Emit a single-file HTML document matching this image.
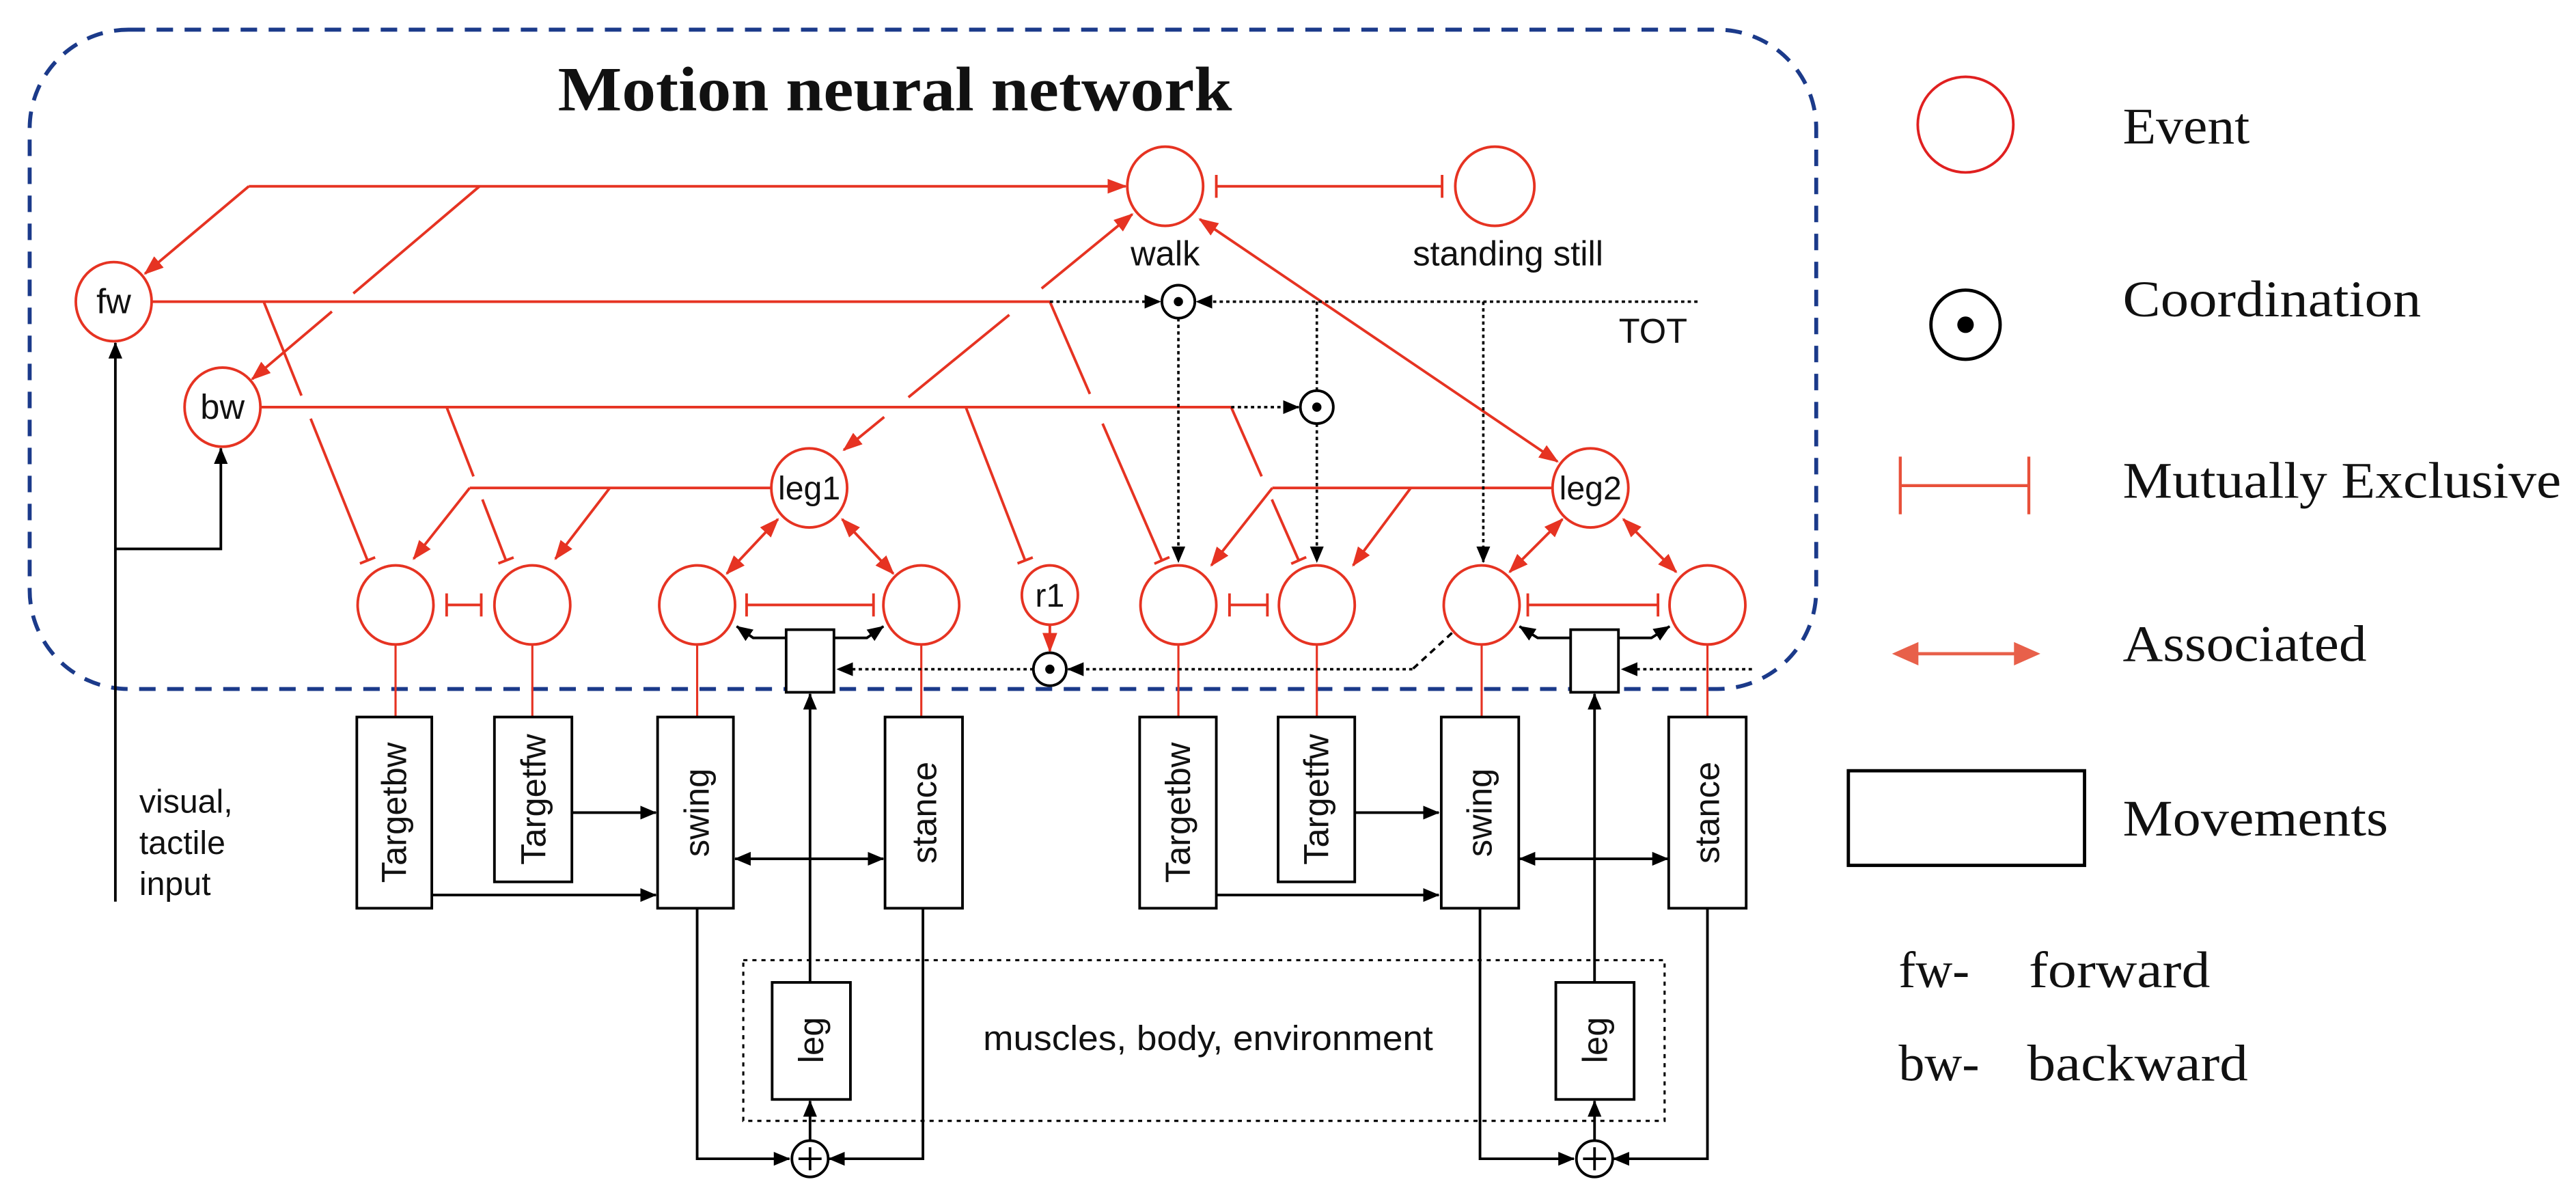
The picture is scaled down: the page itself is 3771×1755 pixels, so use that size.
<!DOCTYPE html>
<html><head><meta charset="utf-8"><style>
html,body{margin:0;padding:0;background:#fff}
svg{display:block}
.s{font-family:"Liberation Sans",Arial,sans-serif;fill:#111}
.f{font-family:"Liberation Serif","Times New Roman",serif;fill:#111}
</style></head><body>
<svg width="3771" height="1755" viewBox="0 0 1563 727.4" xmlns="http://www.w3.org/2000/svg">
<defs>
<marker id="ra" markerUnits="userSpaceOnUse" markerWidth="12" markerHeight="12" viewBox="0 0 12 12" refX="11" refY="6" orient="auto-start-reverse"><path d="M0,1.5 L12,6 L0,10.5 Z" fill="#e63322"/></marker>
<marker id="ba" markerUnits="userSpaceOnUse" markerWidth="10" markerHeight="10" viewBox="0 0 10 10" refX="9.5" refY="5" orient="auto-start-reverse"><path d="M0,0.8 L10,5 L0,9.2 Z" fill="#000"/></marker>
<marker id="ib" markerUnits="userSpaceOnUse" markerWidth="4" markerHeight="14" viewBox="0 0 4 14" refX="2" refY="7" orient="auto"><path d="M2,0 V14" stroke="#e63322" stroke-width="1.6"/></marker>
<marker id="ibs" markerUnits="userSpaceOnUse" markerWidth="4" markerHeight="10" viewBox="0 0 4 10" refX="2" refY="5" orient="auto"><path d="M2,0 V10" stroke="#e63322" stroke-width="1.6"/></marker>
</defs>

<!-- dashed container -->
<rect x="18" y="18" width="1084" height="400" rx="60" ry="60" fill="none" stroke="#1b3a8a" stroke-width="2.4" stroke-dasharray="10 7"/>

<text x="543" y="67" class="f" font-size="38" font-weight="bold" text-anchor="middle" textLength="409" lengthAdjust="spacingAndGlyphs">Motion neural network</text>

<g fill="none" stroke="#e63322" stroke-width="1.6">
<!-- event circles -->
<ellipse cx="707" cy="113" rx="23" ry="24"/>
<ellipse cx="907" cy="113" rx="24" ry="24"/>
<ellipse cx="69" cy="183" rx="23" ry="24"/>
<ellipse cx="135" cy="247" rx="23" ry="24"/>
<ellipse cx="491" cy="296" rx="23" ry="24"/>
<ellipse cx="965" cy="296" rx="23" ry="24"/>
<ellipse cx="637" cy="361" rx="17" ry="18"/>
<ellipse cx="240" cy="367" rx="23" ry="24"/>
<ellipse cx="323" cy="367" rx="23" ry="24"/>
<ellipse cx="423" cy="367" rx="23" ry="24"/>
<ellipse cx="559" cy="367" rx="23" ry="24"/>
<ellipse cx="715" cy="367" rx="23" ry="24"/>
<ellipse cx="799" cy="367" rx="23" ry="24"/>
<ellipse cx="899" cy="367" rx="23" ry="24"/>
<ellipse cx="1036" cy="367" rx="23" ry="24"/>

<!-- top line to walk -->
<path d="M151,113 H683" marker-end="url(#ra)"/>
<path d="M151,113 L88,166" marker-end="url(#ra)"/>
<path d="M291,113 L214.4,178"/>
<path d="M201.4,189 L153,230" marker-end="url(#ra)"/>
<!-- walk / standing still -->
<path d="M738,113 H875" marker-start="url(#ib)" marker-end="url(#ib)"/>
<!-- fw line -->
<path d="M92,183 H637"/>
<path d="M160,183 L182.9,240"/>
<path d="M188.5,254 L223,340" marker-end="url(#ibs)"/>
<path d="M637,183 L661.3,239"/>
<path d="M669,257 L705,340" marker-end="url(#ibs)"/>
<!-- bw line -->
<path d="M158,247 H747"/>
<path d="M271,247 L287.3,289"/>
<path d="M292.7,303 L307,340" marker-end="url(#ibs)"/>
<path d="M586,247 L622,340" marker-end="url(#ibs)"/>
<path d="M747,247 L765.5,289"/>
<path d="M771.7,303 L788,340" marker-end="url(#ibs)"/>
<!-- leg1 to walk -->
<path d="M536.5,253 L512,273" marker-end="url(#ra)"/>
<path d="M551.2,241 L612.4,191"/>
<path d="M632,175 L687,130" marker-end="url(#ra)"/>
<!-- walk to leg2 -->
<path d="M728,133 L945,280" marker-start="url(#ra)" marker-end="url(#ra)"/>
<!-- leg1 branch -->
<path d="M285,296 H468"/>
<path d="M285,296 L251,339" marker-end="url(#ra)"/>
<path d="M370,296 L337,339" marker-end="url(#ra)"/>
<path d="M472,315 L441,348" marker-start="url(#ra)" marker-end="url(#ra)"/>
<path d="M511,315 L542,348" marker-start="url(#ra)" marker-end="url(#ra)"/>
<!-- leg2 branch -->
<path d="M772,296 H942"/>
<path d="M772,296 L735,343" marker-end="url(#ra)"/>
<path d="M856,296 L821,343" marker-end="url(#ra)"/>
<path d="M948,315 L916,347" marker-start="url(#ra)" marker-end="url(#ra)"/>
<path d="M985,315 L1017,347" marker-start="url(#ra)" marker-end="url(#ra)"/>
<!-- mutual exclusions -->
<path d="M271,367 H292" marker-start="url(#ib)" marker-end="url(#ib)"/>
<path d="M453,367 H530" marker-start="url(#ib)" marker-end="url(#ib)"/>
<path d="M746,367 H769" marker-start="url(#ib)" marker-end="url(#ib)"/>
<path d="M927,367 H1006" marker-start="url(#ib)" marker-end="url(#ib)"/>
<!-- r1 -> coord -->
<path d="M637,379 V395" marker-end="url(#ra)"/>
<!-- verticals to boxes -->
<path d="M240,391 V435 M323,391 V435 M423,391 V435 M559,391 V435 M715,391 V435 M799,391 V435 M899,391 V435 M1036,391 V435" stroke-width="1.3"/>
</g>

<!-- circle labels -->
<g class="s" font-size="21" text-anchor="middle">
<text x="69" y="190">fw</text>
<text x="135" y="254">bw</text>
<text x="491" y="303" font-size="20">leg1</text>
<text x="965" y="303" font-size="20">leg2</text>
<text x="637" y="368" font-size="20">r1</text>
<text x="707" y="161">walk</text>
<text x="915" y="161">standing still</text>
<text x="1003" y="208">TOT</text>
</g>

<!-- coordination nodes -->
<g fill="#fff" stroke="#000" stroke-width="1.6">
<circle cx="715" cy="183" r="10"/>
<circle cx="799" cy="247" r="10"/>
<circle cx="637" cy="406" r="10"/>
</g>
<g fill="#000"><circle cx="715" cy="183" r="2.8"/><circle cx="799" cy="247" r="2.8"/><circle cx="637" cy="406" r="2.8"/></g>

<!-- dotted lines -->
<g fill="none" stroke="#000" stroke-width="1.5" stroke-dasharray="2 2">
<path d="M637,183 H704" marker-end="url(#ba)"/>
<path d="M1030,183 H726" marker-end="url(#ba)"/>
<path d="M715,193 V341" marker-end="url(#ba)"/>
<path d="M799,183 V237"/>
<path d="M799,257 V341" marker-end="url(#ba)"/>
<path d="M900,183 V341" marker-end="url(#ba)"/>
<path d="M747,247 H788" marker-end="url(#ba)"/>
<path d="M857,406 H648" marker-end="url(#ba)"/>
<path d="M627,406 H508" marker-end="url(#ba)"/>
<path d="M1063,406 H984" marker-end="url(#ba)"/>
</g>
<path d="M881,384 L857,406" stroke="#000" stroke-width="1.5" stroke-dasharray="4 3" fill="none"/>

<!-- small boxes with arrows -->
<g fill="none" stroke="#000" stroke-width="1.6">
<rect x="477" y="382" width="29" height="38" fill="#fff"/>
<rect x="953" y="382" width="29" height="38" fill="#fff"/>
<path d="M477,387 H457 L447,380" marker-end="url(#ba)"/>
<path d="M506,387 H526 L536,380" marker-end="url(#ba)"/>
<path d="M953,387 H933 L922,380" marker-end="url(#ba)"/>
<path d="M982,387 H1002 L1013,380" marker-end="url(#ba)"/>
</g>

<!-- bottom movements -->
<g fill="none" stroke="#000" stroke-width="1.6">
<rect x="216.5" y="435" width="45.5" height="116"/>
<rect x="300" y="435" width="47" height="100"/>
<rect x="399" y="435" width="46" height="116"/>
<rect x="537" y="435" width="47" height="116"/>
<rect x="691.5" y="435" width="46.5" height="116"/>
<rect x="775.5" y="435" width="46.5" height="100"/>
<rect x="874.5" y="435" width="47" height="116"/>
<rect x="1012.5" y="435" width="47" height="116"/>
<rect x="468.5" y="596" width="47.5" height="71"/>
<rect x="944" y="596" width="47.5" height="71"/>
<rect x="451" y="582.5" width="559" height="97.5" stroke-width="1.3" stroke-dasharray="2.5 3"/>
<path d="M347,493 H398" marker-end="url(#ba)"/>
<path d="M262,543 H398" marker-end="url(#ba)"/>
<path d="M446,521 H536" marker-start="url(#ba)" marker-end="url(#ba)"/>
<path d="M822,493 H873" marker-end="url(#ba)"/>
<path d="M738,543 H873" marker-end="url(#ba)"/>
<path d="M922,521 H1012" marker-start="url(#ba)" marker-end="url(#ba)"/>
<path d="M491.5,596 V421" marker-end="url(#ba)"/>
<path d="M967.5,596 V421" marker-end="url(#ba)"/>
<path d="M423,551 V703 H479" marker-end="url(#ba)"/>
<path d="M560,551 V703 H503" marker-end="url(#ba)"/>
<path d="M491.5,692 V668" marker-end="url(#ba)"/>
<path d="M898,551 V703 H955" marker-end="url(#ba)"/>
<path d="M1036,551 V703 H979" marker-end="url(#ba)"/>
<path d="M967.5,692 V668" marker-end="url(#ba)"/>
<circle cx="491.5" cy="703" r="11" fill="#fff"/>
<circle cx="967.5" cy="703" r="11" fill="#fff"/>
<path d="M484.5,703 H498.5 M491.5,696 V710 M960.5,703 H974.5 M967.5,696 V710"/>
<!-- input lines -->
<path d="M70,547 V208" marker-end="url(#ba)"/>
<path d="M70,333 H134 V272" marker-end="url(#ba)"/>
</g>

<g class="s" font-size="21" text-anchor="middle">
<text transform="translate(246.5,493) rotate(-90)">Targetbw</text>
<text transform="translate(331,485) rotate(-90)">Targetfw</text>
<text transform="translate(430,493) rotate(-90)">swing</text>
<text transform="translate(568,493) rotate(-90)">stance</text>
<text transform="translate(722,493) rotate(-90)">Targetbw</text>
<text transform="translate(806,485) rotate(-90)">Targetfw</text>
<text transform="translate(905,493) rotate(-90)">swing</text>
<text transform="translate(1043,493) rotate(-90)">stance</text>
<text transform="translate(499.5,631) rotate(-90)">leg</text>
<text transform="translate(975,631) rotate(-90)">leg</text>
<text x="733" y="637" textLength="273" lengthAdjust="spacingAndGlyphs">muscles, body, environment</text>
</g>
<g class="s" font-size="20">
<text x="84.5" y="493">visual,</text>
<text x="84.5" y="518">tactile</text>
<text x="84.5" y="543">input</text>
</g>

<!-- legend -->
<ellipse cx="1192.6" cy="75.6" rx="29" ry="29" fill="none" stroke="#e02020" stroke-width="1.6"/>
<circle cx="1192.6" cy="197" r="21" fill="none" stroke="#000" stroke-width="2"/>
<circle cx="1192.6" cy="197" r="5" fill="#000"/>
<path d="M1153,277 V312 M1231,277 V312 M1153,294.6 H1231" stroke="#e8503a" stroke-width="1.8" fill="none"/>
<path d="M1160,396.6 H1226" stroke="#e8604a" stroke-width="2"/>
<path d="M1148,396.6 L1164,389.5 L1164,403.7 Z M1238,396.6 L1222,389.5 L1222,403.7 Z" fill="#e8604a"/>
<rect x="1121.5" y="467.6" width="143.3" height="57.4" fill="none" stroke="#000" stroke-width="2"/>
<g class="f" font-size="31">
<text x="1288" y="87" textLength="77" lengthAdjust="spacingAndGlyphs">Event</text>
<text x="1288" y="192" textLength="181" lengthAdjust="spacingAndGlyphs">Coordination</text>
<text x="1288" y="302" textLength="266" lengthAdjust="spacingAndGlyphs">Mutually Exclusive</text>
<text x="1288" y="401" textLength="148" lengthAdjust="spacingAndGlyphs">Associated</text>
<text x="1288" y="507" textLength="161" lengthAdjust="spacingAndGlyphs">Movements</text>
<text x="1152" y="599" textLength="43" lengthAdjust="spacingAndGlyphs">fw-</text>
<text x="1231" y="599" textLength="110" lengthAdjust="spacingAndGlyphs">forward</text>
<text x="1152" y="655.5" textLength="49" lengthAdjust="spacingAndGlyphs">bw-</text>
<text x="1230" y="655.5" textLength="134" lengthAdjust="spacingAndGlyphs">backward</text>
</g>
</svg>
</body></html>
